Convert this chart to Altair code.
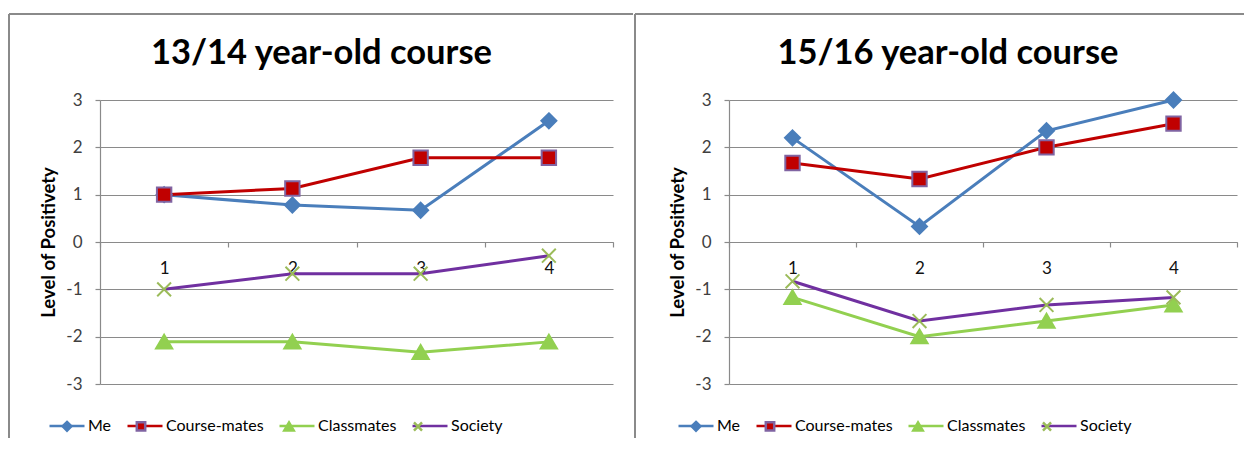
import altair as alt
import pandas as pd

# ---------------- data ----------------
weeks = [1, 2, 3, 4]
series_names = ["Me", "Course-mates", "Classmates", "Society"]

me_1314 = [1.0, 0.78, 0.67, 2.56]
coursemates_1314 = [1.0, 1.13, 1.78, 1.78]
classmates_1314 = [-2.11, -2.11, -2.33, -2.11]
society_1314 = [-1.0, -0.67, -0.67, -0.29]

me_1516 = [2.2, 0.33, 2.35, 3.0]
coursemates_1516 = [1.67, 1.33, 2.0, 2.5]
classmates_1516 = [-1.17, -2.0, -1.67, -1.33]
society_1516 = [-0.83, -1.67, -1.33, -1.17]

panel_titles = ["13/14 year-old course", "15/16 year-old course"]
y_title = "Level of Positivety"
y_ticks = [-3, -2, -1, 0, 1, 2, 3]
x_ticks = [0.5, 1, 1.5, 2, 2.5, 3, 3.5, 4, 4.5]

# ---------------- style ----------------
FONT = "Lato"
GRAY = "#8A8A8A"
line_colors = ["#4A7EBB", "#C00000", "#92D050", "#7030A0"]
marker_fills = ["#4A7EBB", "#C00000", "#92D050", "#9BBB59"]
marker_strokes = ["#4A7EBB", "#8064A2", "#92D050", "#9BBB59"]
marker_paths = [
    "M0,-0.25L0.25,0L0,0.25L-0.25,0Z",
    "M-0.24,-0.24H0.24V0.24H-0.24Z",
    "M0,-0.24L0.27,0.22H-0.27Z",
    "M-0.23,-0.23L0.23,0.23M0.23,-0.23L-0.23,0.23",
]
marker_keys = [s + "_m" for s in series_names]

PLOT_H = 284


def make_df(me, cm, cl, so):
    rows = []
    for name, key, vals in zip(series_names, marker_keys, [me, cm, cl, so]):
        for w, v in zip(weeks, vals):
            rows.append({"Week": w, "Series": name, "Marker": key, "Value": v})
    return pd.DataFrame(rows)


def legend_spec(is_line_legend):
    kw = dict(
        orient="none", legendX=-52, legendY=307, direction="horizontal",
        columns=4, title=None, symbolSize=1225, symbolStrokeWidth=2.5,
        labelFont=FONT, labelFontSize=16, labelColor="#000000",
        labelOffset=2, columnPadding=10, padding=0, rowPadding=0,
    )
    if is_line_legend:
        kw["symbolType"] = "stroke"
    else:
        kw["labelOpacity"] = 0
        kw["labelExpr"] = "replace(datum.label, '_m', '')"
    return alt.Legend(**kw)


def panel(df, title, width, border_left, border_right):
    x = alt.X(
        "Week:Q",
        scale=alt.Scale(domain=[0.5, 4.5], nice=False, zero=False),
        axis=alt.Axis(
            values=x_ticks, title=None, grid=False, orient="bottom",
            offset=-PLOT_H / 2, domainColor=GRAY, domainWidth=1.2,
            tickColor=GRAY, tickSize=5, tickWidth=1.2,
            tickOpacity={"condition": {"test": "datum.value % 1 == 0", "value": 0}, "value": 1},
            labelExpr="datum.value % 1 == 0 ? datum.value + '' : ''",
            labelOverlap=False, labelFlush=False,
            labelFont=FONT, labelFontSize=17, labelColor="#111111", labelPadding=13,
        ),
    )
    y = alt.Y(
        "Value:Q",
        scale=alt.Scale(domain=[-3, 3], nice=False, zero=False),
        axis=alt.Axis(
            values=y_ticks, title=y_title, grid=True, gridColor=GRAY, gridWidth=1.2,
            domainColor=GRAY, domainWidth=1.2, tickColor=GRAY, tickSize=5, tickWidth=1.2,
            labelExpr="datum.value + ''",
            labelFont=FONT, labelFontSize=17, labelColor="#404040", labelPadding=13,
            titleFont=FONT, titleFontSize=18.5, titleFontWeight="bold", titleColor="#000000",
            titleX=-52, titleY=PLOT_H / 2, titleAngle=270, titleBaseline="middle",
            titleAlign="center",
        ),
    )

    lines = alt.Chart(df).mark_line(strokeWidth=3).encode(
        x=x, y=y,
        color=alt.Color("Series:N",
                        scale=alt.Scale(domain=series_names, range=line_colors),
                        legend=legend_spec(True)),
    )
    lb = legend_spec(False)
    points = alt.Chart(df).mark_point(filled=True, opacity=1, strokeWidth=2, size=3600).encode(
        x=x, y=y,
        fill=alt.Fill("Marker:N", scale=alt.Scale(domain=marker_keys, range=marker_fills), legend=lb),
        stroke=alt.Stroke("Marker:N", scale=alt.Scale(domain=marker_keys, range=marker_strokes), legend=lb),
        shape=alt.Shape("Marker:N", scale=alt.Scale(domain=marker_keys, range=marker_paths), legend=lb),
    )

    edge = pd.DataFrame({"edge": [0]})
    top_border = alt.Chart(edge).mark_rule(color=GRAY, strokeWidth=2).encode(
        x=alt.value(border_left), x2=alt.value(border_right), y=alt.value(-86))
    left_border = alt.Chart(edge).mark_rule(color=GRAY, strokeWidth=2).encode(
        x=alt.value(border_left), y=alt.value(-86), y2=alt.value(338))

    return alt.layer(top_border, left_border, lines, points).properties(
        width=width, height=PLOT_H,
        title=alt.TitleParams(
            text=title, font=FONT, fontSize=34.5, fontWeight="bold", color="#000000",
            anchor="middle", frame="group", dx=-35, offset=-85, baseline="alphabetic",
        ),
    )


left = panel(make_df(me_1314, coursemates_1314, classmates_1314, society_1314),
             panel_titles[0], 513, -91, 533)
right = panel(make_df(me_1516, coursemates_1516, classmates_1516, society_1516),
              panel_titles[1], 508, -94, 515)

chart = alt.hconcat(left, right, spacing=0).resolve_scale(
    color="independent", fill="independent", stroke="independent", shape="independent",
).resolve_legend(
    color="independent", fill="independent", stroke="independent", shape="independent",
).properties(
    padding={"left": 0, "top": 5, "right": 0, "bottom": 0},
    background="white",
).configure_view(strokeWidth=0)

chart.save("out.html", embed_options={"renderer": "svg", "actions": False})
